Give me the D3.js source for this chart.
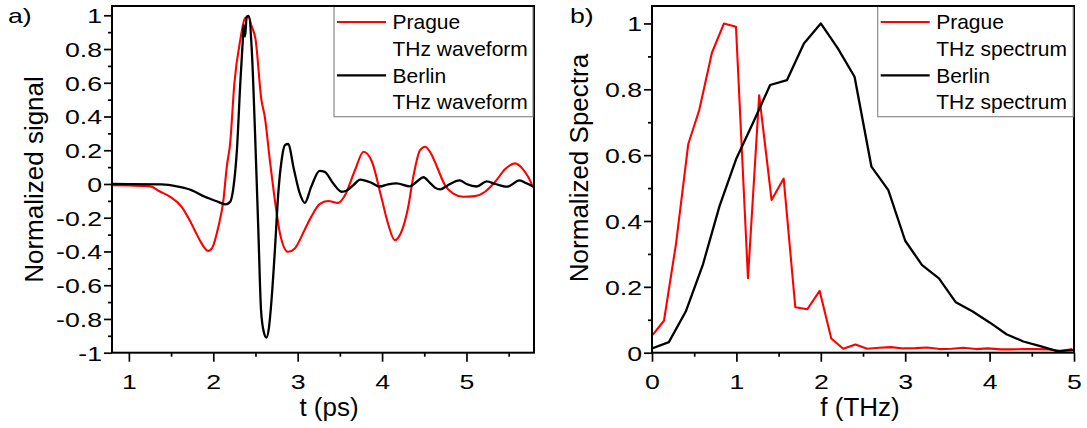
<!DOCTYPE html>
<html><head><meta charset="utf-8">
<script src="https://cdn.jsdelivr.net/npm/d3@7"></script>
<style>
body{margin:0;background:#fff}
svg text{font-family:Arial,"Liberation Sans",sans-serif;fill:#000}
</style>
</head><body>
<svg id="chart" width="1087" height="428"></svg>
<script>
// ---------- data ----------
const pragueWaveT = [0.80,1.00,1.20,1.27,1.35,1.49,1.625,1.72,1.78,1.84,1.94,1.99,2.06,2.12,2.16,2.20,2.25,2.32,2.376,2.416,2.456,2.50,2.57,2.61,2.67,2.73,2.79,2.886,2.966,3.08,3.16,3.26,3.36,3.48,3.55,3.68,3.78,3.88,3.99,4.07,4.15,4.19,4.31,4.37,4.45,4.51,4.59,4.65,4.745,4.84,4.96,5.10,5.22,5.34,5.456,5.575,5.67,5.73,5.79];
const pragueWaveV = [-0.007,-0.008,-0.012,-0.016,-0.040,-0.076,-0.135,-0.215,-0.274,-0.333,-0.397,-0.376,-0.254,-0.096,0.102,0.241,0.597,0.854,0.983,0.990,0.933,0.860,0.500,0.399,0.142,-0.096,-0.293,-0.402,-0.382,-0.274,-0.195,-0.119,-0.101,-0.112,-0.076,0.083,0.191,0.132,-0.076,-0.234,-0.333,-0.319,-0.135,0.043,0.201,0.221,0.171,0.102,-0.007,-0.056,-0.076,-0.072,-0.046,0.013,0.087,0.122,0.087,0.043,-0.020];

const berlinWaveT = [0.80,1.39,1.585,1.74,1.90,2.06,2.147,2.20,2.24,2.28,2.32,2.35,2.36,2.376,2.396,2.42,2.456,2.495,2.535,2.566,2.60,2.63,2.66,2.69,2.73,2.77,2.81,2.85,2.886,2.957,3.025,3.084,3.16,3.26,3.32,3.42,3.52,3.575,3.66,3.74,3.875,3.97,4.07,4.17,4.33,4.41,4.49,4.567,4.63,4.69,4.78,4.92,5.00,5.12,5.24,5.34,5.48,5.63,5.71,5.79];
const berlinWaveV = [0.000,-0.002,-0.016,-0.036,-0.076,-0.106,-0.121,-0.106,-0.016,0.201,0.597,0.854,0.943,0.874,0.992,0.996,0.795,0.300,-0.293,-0.750,-0.880,-0.910,-0.850,-0.689,-0.392,-0.056,0.142,0.231,0.237,0.083,-0.056,-0.112,-0.017,0.078,0.072,0.004,-0.046,-0.040,-0.007,0.026,0.007,-0.015,-0.002,0.004,-0.014,0.013,0.040,0.007,-0.023,-0.032,-0.007,0.021,0.000,-0.015,0.015,0.000,-0.016,0.021,0.004,-0.015];

const pragueSpecF = [0.008,0.142,0.284,0.43,0.56,0.71,0.853,0.995,1.137,1.27,1.417,1.56,1.698,1.84,1.986,2.124,2.266,2.41,2.55,2.69,2.83,2.98,3.12,3.26,3.41,3.55,3.69,3.84,3.98,4.13,4.27,4.41,4.55,4.70,4.84,4.98];
const pragueSpecV = [0.054,0.097,0.33,0.634,0.737,0.911,1.0,0.99,0.226,0.782,0.464,0.529,0.138,0.132,0.188,0.043,0.012,0.025,0.012,0.015,0.017,0.013,0.014,0.016,0.011,0.012,0.015,0.011,0.013,0.010,0.010,0.011,0.011,0.010,0.005,0.011];

const berlinSpecF = [0,0.2,0.4,0.6,0.8,1.0,1.2,1.4,1.6,1.8,2.0,2.2,2.4,2.6,2.8,3.0,3.2,3.4,3.6,3.8,4.0,4.2,4.4,4.6,4.8,5.0];
const berlinSpecV = [0.013,0.032,0.125,0.265,0.445,0.59,0.70,0.813,0.828,0.939,1.0,0.925,0.838,0.565,0.494,0.34,0.266,0.226,0.153,0.125,0.092,0.056,0.034,0.020,0.005,0.008];

const waveXMajor = [1,2,3,4,5];
const waveXMinor = [1.5,2.5,3.5,4.5,5.5];
const waveYMajor = [-1,-0.8,-0.6,-0.4,-0.2,0,0.2,0.4,0.6,0.8,1];
const waveYMinor = [-0.9,-0.7,-0.5,-0.3,-0.1,0.1,0.3,0.5,0.7,0.9];
const specXMajor = [0,1,2,3,4,5];
const specXMinor = [0.5,1.5,2.5,3.5,4.5];
const specYMajor = [0,0.2,0.4,0.6,0.8,1];
const specYMinor = [0.1,0.3,0.5,0.7,0.9];

const waveLegend = [["Prague","THz waveform"],["Berlin","THz waveform"]];
const specLegend = [["Prague","THz spectrum"],["Berlin","THz spectrum"]];
const seriesColors = ["#ff0000","#000000"];

// ---------- drawing ----------
const svg = d3.select("#chart");
const FONT = 'Arial, "Liberation Sans", sans-serif';
const SX = 1.27; // horizontal stretch of tick labels in the original
const TICKFS = 21;

function fmt(d){ return String(+(+d).toFixed(1)); }

function panel(opts){
  const {x, y, xMaj, xMin, yMaj, yMin, series, legend, legendBox, label, labelX, xTitle, xTitleX, yTitle, yTitleX, yTitleY, clipId} = opts;
  const g = svg.append("g");
  const [x0,x1] = x.range(), [y0,y1] = y.range();

  g.append("clipPath").attr("id",clipId).append("rect")
    .attr("x",x0).attr("y",y1).attr("width",x1-x0).attr("height",y0-y1);

  // series
  series.forEach(s=>{
    const line = d3.line().x((d,i)=>x(s.xs[i])).y((d,i)=>y(s.ys[i])).curve(s.curve);
    g.append("path").datum(s.ys).attr("d",line)
      .attr("fill","none").attr("stroke",s.color).attr("stroke-width",s.w)
      .attr("stroke-linejoin","round").attr("clip-path",`url(#${clipId})`);
  });

  // axes
  const bottom = g.append("g").attr("transform",`translate(0,${y0})`)
    .call(d3.axisBottom(x).tickValues(xMaj).tickSize(9).tickSizeOuter(0).tickPadding(0).tickFormat(fmt));
  g.append("g").attr("transform",`translate(0,${y0})`)
    .call(d3.axisBottom(x).tickValues(xMin).tickSize(4).tickSizeOuter(0).tickFormat(""));
  const left = g.append("g").attr("transform",`translate(${x0},0)`)
    .call(d3.axisLeft(y).tickValues(yMaj).tickSize(8).tickSizeOuter(0).tickPadding(0).tickFormat(fmt));
  g.append("g").attr("transform",`translate(${x0},0)`)
    .call(d3.axisLeft(y).tickValues(yMin).tickSize(4).tickSizeOuter(0).tickFormat(""));
  g.selectAll(".domain").remove();
  g.selectAll(".tick line").attr("stroke","#000").attr("stroke-width",1.7);
  g.selectAll(".tick text").attr("font-family",FONT).attr("font-size",TICKFS).attr("fill","#000");
  bottom.selectAll(".tick text").attr("y",0).attr("dy",null)
    .attr("transform",`translate(0,36) scale(${SX},1)`);
  left.selectAll(".tick text").attr("x",0).attr("dy",null)
    .attr("transform",`translate(-10,7.4) scale(${SX},1)`);

  // frame
  g.append("rect").attr("x",x0).attr("y",y1).attr("width",x1-x0).attr("height",y0-y1)
    .attr("fill","none").attr("stroke","#000").attr("stroke-width",2);

  // legend
  const lb = legendBox;
  g.append("rect").attr("x",lb.x).attr("y",y1).attr("width",lb.w).attr("height",lb.h)
    .attr("fill","#fff").attr("stroke","#8a8a8a").attr("stroke-width",1.2);
  legend.forEach((lines,i)=>{
    const ly = y1 + 16 + i*53.3;
    g.append("line").attr("x1",lb.x+3).attr("x2",lb.x+52).attr("y1",ly).attr("y2",ly)
      .attr("stroke",seriesColors[i]).attr("stroke-width",2.2);
    lines.forEach((t,j)=>{
      g.append("text").attr("x",lb.x+58.5).attr("y",ly+7.3+j*26.5)
        .attr("font-size",21).text(t);
    });
  });
  g.append("line").attr("x1",x0).attr("x2",x1).attr("y1",y1).attr("y2",y1)
    .attr("stroke","#000").attr("stroke-width",2);

  // panel label
  g.append("text").attr("transform",`translate(${labelX},23.3) scale(${SX},1)`)
    .attr("font-size",TICKFS).text(label);

  // titles
  g.append("text").attr("x",xTitleX).attr("y",416).attr("text-anchor","middle")
    .attr("font-size",26).text(xTitle);
  g.append("text").attr("transform",`translate(${yTitleX},${yTitleY}) rotate(-90)`)
    .attr("text-anchor","middle").attr("font-size",26).text(yTitle);
}

const xW = d3.scaleLinear().domain([0.8,5.8]).range([112,534]);
const yW = d3.scaleLinear().domain([-1,1.055]).range([352.7,6]);
panel({
  x:xW, y:yW, xMaj:waveXMajor, xMin:waveXMinor, yMaj:waveYMajor, yMin:waveYMinor,
  series:[
    {xs:pragueWaveT, ys:pragueWaveV, color:seriesColors[0], w:2.1, curve:d3.curveMonotoneX},
    {xs:berlinWaveT, ys:berlinWaveV, color:seriesColors[1], w:2.3, curve:d3.curveMonotoneX}
  ],
  legend:waveLegend, legendBox:{x:334,w:199,h:110.7},
  label:"a)", labelX:8, xTitle:"t (ps)", xTitleX:329, yTitle:"Normalized signal", yTitleX:43, yTitleY:179.5,
  clipId:"clipA"
});

const xS = d3.scaleLinear().domain([0,5]).range([652,1074]);
const yS = d3.scaleLinear().domain([0,1.053]).range([352.7,6]);
panel({
  x:xS, y:yS, xMaj:specXMajor, xMin:specXMinor, yMaj:specYMajor, yMin:specYMinor,
  series:[
    {xs:pragueSpecF, ys:pragueSpecV, color:seriesColors[0], w:2.1, curve:d3.curveLinear},
    {xs:berlinSpecF, ys:berlinSpecV, color:seriesColors[1], w:2.3, curve:d3.curveLinear}
  ],
  legend:specLegend, legendBox:{x:877.7,w:195.5,h:110.7},
  label:"b)", labelX:570, xTitle:"f (THz)", xTitleX:860, yTitle:"Normalized Spectra", yTitleX:588, yTitleY:168,
  clipId:"clipB"
});
</script>
</body></html>
